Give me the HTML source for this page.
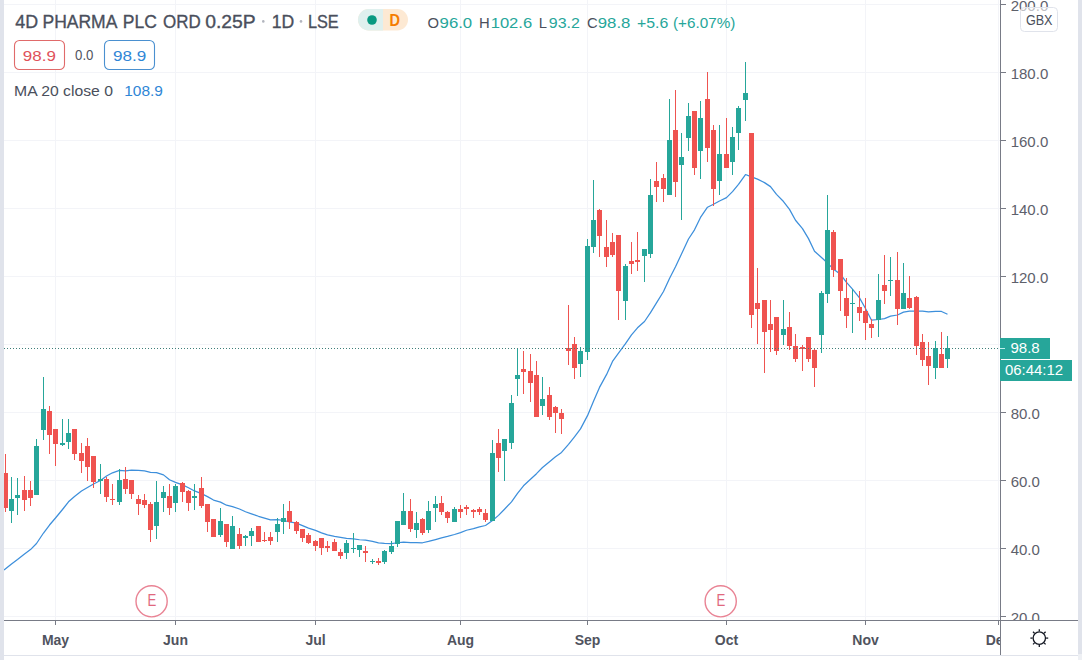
<!DOCTYPE html>
<html><head><meta charset="utf-8"><title>4D PHARMA chart</title>
<style>html,body{margin:0;padding:0;background:#fff;}body{width:1082px;height:660px;overflow:hidden;position:relative;font-family:"Liberation Sans",sans-serif;}</style>
</head><body>
<svg width="1082" height="660" viewBox="0 0 1082 660" style="position:absolute;left:0;top:0">
<g shape-rendering="crispEdges">
<rect x="4" y="4" width="996" height="1" fill="#f3f4f8"/>
<rect x="4" y="72" width="996" height="1" fill="#f3f4f8"/>
<rect x="4" y="140" width="996" height="1" fill="#f3f4f8"/>
<rect x="4" y="208" width="996" height="1" fill="#f3f4f8"/>
<rect x="4" y="276" width="996" height="1" fill="#f3f4f8"/>
<rect x="4" y="344" width="996" height="1" fill="#f3f4f8"/>
<rect x="4" y="412" width="996" height="1" fill="#f3f4f8"/>
<rect x="4" y="480" width="996" height="1" fill="#f3f4f8"/>
<rect x="4" y="548" width="996" height="1" fill="#f3f4f8"/>
<rect x="4" y="616" width="996" height="1" fill="#f3f4f8"/>
<rect x="55" y="0" width="1" height="620" fill="#f3f4f8"/>
<rect x="175" y="0" width="1" height="620" fill="#f3f4f8"/>
<rect x="315" y="0" width="1" height="620" fill="#f3f4f8"/>
<rect x="460" y="0" width="1" height="620" fill="#f3f4f8"/>
<rect x="587" y="0" width="1" height="620" fill="#f3f4f8"/>
<rect x="726" y="0" width="1" height="620" fill="#f3f4f8"/>
<rect x="865" y="0" width="1" height="620" fill="#f3f4f8"/>
<rect x="998" y="0" width="1" height="620" fill="#f3f4f8"/>
</g>
<polyline points="4.0,570.0 11.5,564 17.5,559.5 24.5,554 30.5,549.6 36.5,543.5 43.5,533 49.5,525 55.5,518 62.5,509.5 68.5,501.8 74.5,496.5 81.5,491 87.5,487.5 93.5,484 100.5,480.5 106.5,476 112.5,472.8 119.5,470.4 125.5,470.86 131.5,470.19 138.5,470.38 144.5,470.84 150.5,472.34 156.5,472.58 163.5,474.88 169.5,479.79 175.5,482.41 182.5,484.84 188.5,487.79 194.5,490.96 201.5,493.58 207.5,496.6 213.5,500.08 220.5,502.08 226.5,505.19 232.5,506.71 239.5,508.98 245.5,511.77 251.5,513.92 258.5,516.28 264.5,518.13 270.5,519.91 277.5,519.67 283.5,520.5 289.5,521.96 296.5,523.12 302.5,525.66 308.5,528.2 315.5,530.33 321.5,532.85 327.5,534.93 334.5,536.38 340.5,537.33 346.5,538.43 353.5,538.8 359.5,539.75 365.5,540.08 372.5,541.33 378.5,542.86 384.5,543.38 391.5,543.68 397.5,542.75 403.5,542.1 410.5,542.58 416.5,542.66 422.5,542.76 428.5,541.46 435.5,539.56 441.5,537.88 447.5,536.4 454.5,534.5 460.5,532.57 466.5,530.24 473.5,528.66 479.5,526.81 485.5,525.51 492.5,520.58 498.5,515.38 504.5,509.25 511.5,501.85 517.5,493.3 523.5,485.78 530.5,479.31 536.5,473.69 542.5,467.49 549.5,461.69 555.5,456.72 561.5,452.4 568.5,444.33 574.5,436.79 580.5,428.91 587.5,415.66 593.5,401.26 599.5,387.42 606.5,374.65 612.5,361.4 618.5,353.23 625.5,343.7 631.5,334.88 637.5,327.78 644.5,321.48 650.5,312.7 656.5,302.9 663.5,291.5 669.5,278.55 675.5,266.78 681.5,254.05 688.5,238.97 694.5,229.83 700.5,217.4 707.5,207.19 713.5,204.27 719.5,200.97 726.5,197.58 732.5,191.65 738.5,184.35 745.5,174.52 751.5,176.9 757.5,179.15 764.5,182.63 770.5,186.61 776.5,194.34 783.5,201.51 789.5,209.38 795.5,220.26 802.5,228.61 808.5,238.64 814.5,251.17 821.5,257.48 827.5,263.08 833.5,269.17 840.5,274.27 846.5,282.3 852.5,289.09 859.5,297.82 865.5,308.5 871.5,320.18 878.5,319.5 884.5,318.6 890.5,316.05 897.5,315.0 903.5,312.17 909.5,311.07 916.5,311.05 922.5,311.1 928.5,311.95 935.5,311.47 941.5,311.47 947.5,314.22" fill="none" stroke="#3d8fdb" stroke-width="1.25" stroke-linejoin="round"/>
<g shape-rendering="crispEdges">
<rect x="5" y="454" width="1" height="58" fill="#ef5350"/>
<rect x="3" y="473" width="5" height="35" fill="#ef5350"/>
<rect x="11" y="477" width="1" height="46" fill="#26a69a"/>
<rect x="9" y="499" width="5" height="12" fill="#26a69a"/>
<rect x="17" y="478" width="1" height="37" fill="#26a69a"/>
<rect x="15" y="495" width="5" height="3" fill="#26a69a"/>
<rect x="24" y="476" width="1" height="35" fill="#ef5350"/>
<rect x="22" y="490" width="5" height="10" fill="#ef5350"/>
<rect x="30" y="481" width="1" height="25" fill="#ef5350"/>
<rect x="28" y="490" width="5" height="8" fill="#ef5350"/>
<rect x="36" y="439" width="1" height="56" fill="#26a69a"/>
<rect x="34" y="446" width="5" height="49" fill="#26a69a"/>
<rect x="43" y="377" width="1" height="63" fill="#26a69a"/>
<rect x="41" y="409" width="5" height="21" fill="#26a69a"/>
<rect x="49" y="406" width="1" height="48" fill="#ef5350"/>
<rect x="47" y="411" width="5" height="24" fill="#ef5350"/>
<rect x="55" y="429" width="1" height="37" fill="#ef5350"/>
<rect x="53" y="429" width="5" height="15" fill="#ef5350"/>
<rect x="62" y="419" width="1" height="27" fill="#26a69a"/>
<rect x="60" y="443" width="5" height="2" fill="#26a69a"/>
<rect x="68" y="419" width="1" height="30" fill="#26a69a"/>
<rect x="66" y="433" width="5" height="9" fill="#26a69a"/>
<rect x="74" y="429" width="1" height="31" fill="#ef5350"/>
<rect x="72" y="429" width="5" height="25" fill="#ef5350"/>
<rect x="81" y="443" width="1" height="30" fill="#ef5350"/>
<rect x="79" y="453" width="5" height="8" fill="#ef5350"/>
<rect x="87" y="438" width="1" height="43" fill="#ef5350"/>
<rect x="85" y="446" width="5" height="21" fill="#ef5350"/>
<rect x="93" y="456" width="1" height="32" fill="#ef5350"/>
<rect x="91" y="456" width="5" height="26" fill="#ef5350"/>
<rect x="100" y="464" width="1" height="30" fill="#26a69a"/>
<rect x="98" y="479" width="5" height="2" fill="#26a69a"/>
<rect x="106" y="477" width="1" height="25" fill="#ef5350"/>
<rect x="104" y="479" width="5" height="18" fill="#ef5350"/>
<rect x="112" y="484" width="1" height="21" fill="#ef5350"/>
<rect x="110" y="499" width="5" height="1" fill="#ef5350"/>
<rect x="119" y="469" width="1" height="36" fill="#26a69a"/>
<rect x="117" y="480" width="5" height="22" fill="#26a69a"/>
<rect x="125" y="467" width="1" height="27" fill="#ef5350"/>
<rect x="123" y="479" width="5" height="10" fill="#ef5350"/>
<rect x="131" y="480" width="1" height="19" fill="#ef5350"/>
<rect x="129" y="480" width="5" height="14" fill="#ef5350"/>
<rect x="138" y="495" width="1" height="20" fill="#ef5350"/>
<rect x="136" y="499" width="5" height="5" fill="#ef5350"/>
<rect x="144" y="494" width="1" height="14" fill="#ef5350"/>
<rect x="142" y="500" width="5" height="5" fill="#ef5350"/>
<rect x="150" y="502" width="1" height="40" fill="#ef5350"/>
<rect x="148" y="504" width="5" height="26" fill="#ef5350"/>
<rect x="156" y="481" width="1" height="58" fill="#26a69a"/>
<rect x="154" y="502" width="5" height="24" fill="#26a69a"/>
<rect x="163" y="486" width="1" height="26" fill="#26a69a"/>
<rect x="161" y="492" width="5" height="6" fill="#26a69a"/>
<rect x="169" y="484" width="1" height="31" fill="#ef5350"/>
<rect x="167" y="496" width="5" height="12" fill="#ef5350"/>
<rect x="175" y="484" width="1" height="28" fill="#26a69a"/>
<rect x="173" y="486" width="5" height="17" fill="#26a69a"/>
<rect x="182" y="482" width="1" height="20" fill="#ef5350"/>
<rect x="180" y="483" width="5" height="9" fill="#ef5350"/>
<rect x="188" y="490" width="1" height="21" fill="#ef5350"/>
<rect x="186" y="491" width="5" height="12" fill="#ef5350"/>
<rect x="194" y="484" width="1" height="26" fill="#26a69a"/>
<rect x="192" y="496" width="5" height="2" fill="#26a69a"/>
<rect x="201" y="477" width="1" height="31" fill="#ef5350"/>
<rect x="199" y="488" width="5" height="18" fill="#ef5350"/>
<rect x="207" y="504" width="1" height="28" fill="#ef5350"/>
<rect x="205" y="504" width="5" height="18" fill="#ef5350"/>
<rect x="213" y="519" width="1" height="18" fill="#ef5350"/>
<rect x="211" y="519" width="5" height="18" fill="#ef5350"/>
<rect x="220" y="508" width="1" height="29" fill="#26a69a"/>
<rect x="218" y="521" width="5" height="14" fill="#26a69a"/>
<rect x="226" y="524" width="1" height="23" fill="#ef5350"/>
<rect x="224" y="524" width="5" height="18" fill="#ef5350"/>
<rect x="232" y="516" width="1" height="33" fill="#26a69a"/>
<rect x="230" y="526" width="5" height="23" fill="#26a69a"/>
<rect x="239" y="528" width="1" height="21" fill="#ef5350"/>
<rect x="237" y="534" width="5" height="12" fill="#ef5350"/>
<rect x="245" y="535" width="1" height="11" fill="#26a69a"/>
<rect x="243" y="536" width="5" height="2" fill="#26a69a"/>
<rect x="251" y="528" width="1" height="18" fill="#26a69a"/>
<rect x="249" y="531" width="5" height="5" fill="#26a69a"/>
<rect x="258" y="526" width="1" height="16" fill="#ef5350"/>
<rect x="256" y="526" width="5" height="16" fill="#ef5350"/>
<rect x="264" y="532" width="1" height="10" fill="#ef5350"/>
<rect x="262" y="540" width="5" height="1" fill="#ef5350"/>
<rect x="270" y="532" width="1" height="13" fill="#ef5350"/>
<rect x="268" y="537" width="5" height="4" fill="#ef5350"/>
<rect x="277" y="518" width="1" height="24" fill="#26a69a"/>
<rect x="275" y="524" width="5" height="8" fill="#26a69a"/>
<rect x="283" y="504" width="1" height="30" fill="#26a69a"/>
<rect x="281" y="518" width="5" height="4" fill="#26a69a"/>
<rect x="289" y="501" width="1" height="28" fill="#ef5350"/>
<rect x="287" y="511" width="5" height="11" fill="#ef5350"/>
<rect x="296" y="521" width="1" height="13" fill="#ef5350"/>
<rect x="294" y="522" width="5" height="9" fill="#ef5350"/>
<rect x="302" y="529" width="1" height="13" fill="#ef5350"/>
<rect x="300" y="529" width="5" height="9" fill="#ef5350"/>
<rect x="308" y="533" width="1" height="11" fill="#ef5350"/>
<rect x="306" y="535" width="5" height="8" fill="#ef5350"/>
<rect x="315" y="540" width="1" height="11" fill="#ef5350"/>
<rect x="313" y="541" width="5" height="5" fill="#ef5350"/>
<rect x="321" y="538" width="1" height="17" fill="#ef5350"/>
<rect x="319" y="538" width="5" height="10" fill="#ef5350"/>
<rect x="327" y="541" width="1" height="11" fill="#ef5350"/>
<rect x="325" y="546" width="5" height="2" fill="#ef5350"/>
<rect x="334" y="539" width="1" height="12" fill="#ef5350"/>
<rect x="332" y="542" width="5" height="9" fill="#ef5350"/>
<rect x="340" y="549" width="1" height="10" fill="#ef5350"/>
<rect x="338" y="552" width="5" height="4" fill="#ef5350"/>
<rect x="346" y="540" width="1" height="19" fill="#26a69a"/>
<rect x="344" y="543" width="5" height="10" fill="#26a69a"/>
<rect x="353" y="533" width="1" height="20" fill="#26a69a"/>
<rect x="351" y="548" width="5" height="1" fill="#26a69a"/>
<rect x="359" y="545" width="1" height="12" fill="#26a69a"/>
<rect x="357" y="545" width="5" height="5" fill="#26a69a"/>
<rect x="365" y="546" width="1" height="16" fill="#ef5350"/>
<rect x="363" y="551" width="5" height="2" fill="#ef5350"/>
<rect x="372" y="559" width="1" height="5" fill="#26a69a"/>
<rect x="370" y="561" width="5" height="1" fill="#26a69a"/>
<rect x="378" y="558" width="1" height="7" fill="#ef5350"/>
<rect x="376" y="561" width="5" height="2" fill="#ef5350"/>
<rect x="384" y="550" width="1" height="14" fill="#26a69a"/>
<rect x="382" y="551" width="5" height="11" fill="#26a69a"/>
<rect x="391" y="541" width="1" height="13" fill="#26a69a"/>
<rect x="389" y="546" width="5" height="6" fill="#26a69a"/>
<rect x="397" y="521" width="1" height="26" fill="#26a69a"/>
<rect x="395" y="521" width="5" height="23" fill="#26a69a"/>
<rect x="403" y="493" width="1" height="32" fill="#26a69a"/>
<rect x="401" y="511" width="5" height="14" fill="#26a69a"/>
<rect x="410" y="499" width="1" height="33" fill="#ef5350"/>
<rect x="408" y="511" width="5" height="18" fill="#ef5350"/>
<rect x="416" y="512" width="1" height="26" fill="#26a69a"/>
<rect x="414" y="523" width="5" height="7" fill="#26a69a"/>
<rect x="422" y="518" width="1" height="17" fill="#ef5350"/>
<rect x="420" y="519" width="5" height="14" fill="#ef5350"/>
<rect x="428" y="501" width="1" height="32" fill="#26a69a"/>
<rect x="426" y="511" width="5" height="19" fill="#26a69a"/>
<rect x="435" y="496" width="1" height="26" fill="#26a69a"/>
<rect x="433" y="504" width="5" height="4" fill="#26a69a"/>
<rect x="441" y="496" width="1" height="19" fill="#ef5350"/>
<rect x="439" y="503" width="5" height="9" fill="#ef5350"/>
<rect x="447" y="511" width="1" height="12" fill="#ef5350"/>
<rect x="445" y="512" width="5" height="6" fill="#ef5350"/>
<rect x="454" y="507" width="1" height="15" fill="#26a69a"/>
<rect x="452" y="509" width="5" height="13" fill="#26a69a"/>
<rect x="460" y="505" width="1" height="13" fill="#ef5350"/>
<rect x="458" y="509" width="5" height="3" fill="#ef5350"/>
<rect x="466" y="505" width="1" height="10" fill="#ef5350"/>
<rect x="464" y="507" width="5" height="2" fill="#ef5350"/>
<rect x="473" y="509" width="1" height="9" fill="#ef5350"/>
<rect x="471" y="510" width="5" height="2" fill="#ef5350"/>
<rect x="479" y="507" width="1" height="8" fill="#ef5350"/>
<rect x="477" y="509" width="5" height="3" fill="#ef5350"/>
<rect x="485" y="509" width="1" height="13" fill="#ef5350"/>
<rect x="483" y="513" width="5" height="7" fill="#ef5350"/>
<rect x="492" y="440" width="1" height="81" fill="#26a69a"/>
<rect x="490" y="453" width="5" height="68" fill="#26a69a"/>
<rect x="498" y="429" width="1" height="43" fill="#ef5350"/>
<rect x="496" y="443" width="5" height="15" fill="#ef5350"/>
<rect x="504" y="439" width="1" height="42" fill="#26a69a"/>
<rect x="502" y="439" width="5" height="12" fill="#26a69a"/>
<rect x="511" y="395" width="1" height="54" fill="#26a69a"/>
<rect x="509" y="403" width="5" height="40" fill="#26a69a"/>
<rect x="517" y="348" width="1" height="48" fill="#26a69a"/>
<rect x="515" y="375" width="5" height="4" fill="#26a69a"/>
<rect x="523" y="351" width="1" height="43" fill="#ef5350"/>
<rect x="521" y="369" width="5" height="3" fill="#ef5350"/>
<rect x="530" y="354" width="1" height="48" fill="#ef5350"/>
<rect x="528" y="371" width="5" height="12" fill="#ef5350"/>
<rect x="536" y="361" width="1" height="56" fill="#ef5350"/>
<rect x="534" y="375" width="5" height="42" fill="#ef5350"/>
<rect x="542" y="377" width="1" height="38" fill="#26a69a"/>
<rect x="540" y="399" width="5" height="7" fill="#26a69a"/>
<rect x="549" y="387" width="1" height="33" fill="#ef5350"/>
<rect x="547" y="395" width="5" height="22" fill="#ef5350"/>
<rect x="555" y="406" width="1" height="27" fill="#ef5350"/>
<rect x="553" y="407" width="5" height="6" fill="#ef5350"/>
<rect x="561" y="409" width="1" height="25" fill="#ef5350"/>
<rect x="559" y="413" width="5" height="6" fill="#ef5350"/>
<rect x="568" y="305" width="1" height="60" fill="#ef5350"/>
<rect x="566" y="348" width="5" height="3" fill="#ef5350"/>
<rect x="574" y="337" width="1" height="42" fill="#ef5350"/>
<rect x="572" y="344" width="5" height="24" fill="#ef5350"/>
<rect x="580" y="347" width="1" height="30" fill="#26a69a"/>
<rect x="578" y="351" width="5" height="13" fill="#26a69a"/>
<rect x="587" y="239" width="1" height="121" fill="#26a69a"/>
<rect x="585" y="246" width="5" height="106" fill="#26a69a"/>
<rect x="593" y="180" width="1" height="73" fill="#26a69a"/>
<rect x="591" y="220" width="5" height="27" fill="#26a69a"/>
<rect x="599" y="209" width="1" height="48" fill="#ef5350"/>
<rect x="597" y="210" width="5" height="26" fill="#ef5350"/>
<rect x="606" y="220" width="1" height="47" fill="#ef5350"/>
<rect x="604" y="247" width="5" height="10" fill="#ef5350"/>
<rect x="612" y="233" width="1" height="24" fill="#ef5350"/>
<rect x="610" y="242" width="5" height="13" fill="#ef5350"/>
<rect x="618" y="235" width="1" height="85" fill="#ef5350"/>
<rect x="616" y="235" width="5" height="56" fill="#ef5350"/>
<rect x="625" y="264" width="1" height="56" fill="#26a69a"/>
<rect x="623" y="266" width="5" height="35" fill="#26a69a"/>
<rect x="631" y="242" width="1" height="32" fill="#ef5350"/>
<rect x="629" y="261" width="5" height="3" fill="#ef5350"/>
<rect x="637" y="232" width="1" height="39" fill="#ef5350"/>
<rect x="635" y="260" width="5" height="2" fill="#ef5350"/>
<rect x="644" y="249" width="1" height="33" fill="#26a69a"/>
<rect x="642" y="249" width="5" height="7" fill="#26a69a"/>
<rect x="650" y="179" width="1" height="79" fill="#26a69a"/>
<rect x="648" y="195" width="5" height="59" fill="#26a69a"/>
<rect x="656" y="162" width="1" height="40" fill="#ef5350"/>
<rect x="654" y="181" width="5" height="6" fill="#ef5350"/>
<rect x="663" y="174" width="1" height="28" fill="#ef5350"/>
<rect x="661" y="178" width="5" height="11" fill="#ef5350"/>
<rect x="669" y="99" width="1" height="96" fill="#26a69a"/>
<rect x="667" y="140" width="5" height="55" fill="#26a69a"/>
<rect x="675" y="90" width="1" height="107" fill="#ef5350"/>
<rect x="673" y="130" width="5" height="52" fill="#ef5350"/>
<rect x="681" y="133" width="1" height="87" fill="#26a69a"/>
<rect x="679" y="157" width="5" height="8" fill="#26a69a"/>
<rect x="688" y="103" width="1" height="48" fill="#26a69a"/>
<rect x="686" y="116" width="5" height="22" fill="#26a69a"/>
<rect x="694" y="111" width="1" height="64" fill="#ef5350"/>
<rect x="692" y="111" width="5" height="57" fill="#ef5350"/>
<rect x="700" y="101" width="1" height="78" fill="#26a69a"/>
<rect x="698" y="118" width="5" height="33" fill="#26a69a"/>
<rect x="707" y="72" width="1" height="90" fill="#ef5350"/>
<rect x="705" y="99" width="5" height="49" fill="#ef5350"/>
<rect x="713" y="125" width="1" height="81" fill="#ef5350"/>
<rect x="711" y="130" width="5" height="59" fill="#ef5350"/>
<rect x="719" y="125" width="1" height="70" fill="#26a69a"/>
<rect x="717" y="154" width="5" height="27" fill="#26a69a"/>
<rect x="726" y="118" width="1" height="50" fill="#ef5350"/>
<rect x="724" y="154" width="5" height="14" fill="#ef5350"/>
<rect x="732" y="127" width="1" height="48" fill="#26a69a"/>
<rect x="730" y="137" width="5" height="25" fill="#26a69a"/>
<rect x="738" y="106" width="1" height="44" fill="#26a69a"/>
<rect x="736" y="108" width="5" height="25" fill="#26a69a"/>
<rect x="745" y="62" width="1" height="59" fill="#26a69a"/>
<rect x="743" y="93" width="5" height="7" fill="#26a69a"/>
<rect x="751" y="133" width="1" height="195" fill="#ef5350"/>
<rect x="749" y="133" width="5" height="182" fill="#ef5350"/>
<rect x="757" y="268" width="1" height="76" fill="#ef5350"/>
<rect x="755" y="303" width="5" height="6" fill="#ef5350"/>
<rect x="764" y="300" width="1" height="73" fill="#ef5350"/>
<rect x="762" y="300" width="5" height="32" fill="#ef5350"/>
<rect x="770" y="300" width="1" height="52" fill="#ef5350"/>
<rect x="768" y="324" width="5" height="6" fill="#ef5350"/>
<rect x="776" y="317" width="1" height="38" fill="#ef5350"/>
<rect x="774" y="317" width="5" height="34" fill="#ef5350"/>
<rect x="783" y="300" width="1" height="45" fill="#26a69a"/>
<rect x="781" y="329" width="5" height="6" fill="#26a69a"/>
<rect x="789" y="312" width="1" height="38" fill="#ef5350"/>
<rect x="787" y="327" width="5" height="19" fill="#ef5350"/>
<rect x="795" y="334" width="1" height="28" fill="#ef5350"/>
<rect x="793" y="346" width="5" height="13" fill="#ef5350"/>
<rect x="802" y="345" width="1" height="26" fill="#ef5350"/>
<rect x="800" y="347" width="5" height="2" fill="#ef5350"/>
<rect x="808" y="337" width="1" height="25" fill="#ef5350"/>
<rect x="806" y="337" width="5" height="22" fill="#ef5350"/>
<rect x="814" y="349" width="1" height="38" fill="#ef5350"/>
<rect x="812" y="350" width="5" height="18" fill="#ef5350"/>
<rect x="821" y="291" width="1" height="62" fill="#26a69a"/>
<rect x="819" y="293" width="5" height="42" fill="#26a69a"/>
<rect x="827" y="195" width="1" height="108" fill="#26a69a"/>
<rect x="825" y="230" width="5" height="64" fill="#26a69a"/>
<rect x="833" y="230" width="1" height="47" fill="#ef5350"/>
<rect x="831" y="232" width="5" height="38" fill="#ef5350"/>
<rect x="840" y="259" width="1" height="52" fill="#ef5350"/>
<rect x="838" y="259" width="5" height="32" fill="#ef5350"/>
<rect x="846" y="278" width="1" height="50" fill="#ef5350"/>
<rect x="844" y="298" width="5" height="18" fill="#ef5350"/>
<rect x="852" y="289" width="1" height="44" fill="#26a69a"/>
<rect x="850" y="303" width="5" height="1" fill="#26a69a"/>
<rect x="859" y="291" width="1" height="30" fill="#ef5350"/>
<rect x="857" y="307" width="5" height="6" fill="#ef5350"/>
<rect x="865" y="298" width="1" height="42" fill="#ef5350"/>
<rect x="863" y="311" width="5" height="12" fill="#ef5350"/>
<rect x="871" y="319" width="1" height="19" fill="#ef5350"/>
<rect x="869" y="324" width="5" height="4" fill="#ef5350"/>
<rect x="878" y="274" width="1" height="63" fill="#26a69a"/>
<rect x="876" y="300" width="5" height="20" fill="#26a69a"/>
<rect x="884" y="255" width="1" height="49" fill="#ef5350"/>
<rect x="882" y="285" width="5" height="6" fill="#ef5350"/>
<rect x="890" y="257" width="1" height="39" fill="#26a69a"/>
<rect x="888" y="280" width="5" height="1" fill="#26a69a"/>
<rect x="897" y="252" width="1" height="73" fill="#ef5350"/>
<rect x="895" y="280" width="5" height="29" fill="#ef5350"/>
<rect x="903" y="263" width="1" height="46" fill="#26a69a"/>
<rect x="901" y="293" width="5" height="16" fill="#26a69a"/>
<rect x="909" y="276" width="1" height="33" fill="#ef5350"/>
<rect x="907" y="298" width="5" height="10" fill="#ef5350"/>
<rect x="916" y="296" width="1" height="59" fill="#ef5350"/>
<rect x="914" y="297" width="5" height="49" fill="#ef5350"/>
<rect x="922" y="334" width="1" height="32" fill="#ef5350"/>
<rect x="920" y="342" width="5" height="18" fill="#ef5350"/>
<rect x="928" y="342" width="1" height="43" fill="#ef5350"/>
<rect x="926" y="356" width="5" height="10" fill="#ef5350"/>
<rect x="935" y="341" width="1" height="38" fill="#26a69a"/>
<rect x="933" y="348" width="5" height="20" fill="#26a69a"/>
<rect x="941" y="332" width="1" height="36" fill="#ef5350"/>
<rect x="939" y="354" width="5" height="14" fill="#ef5350"/>
<rect x="947" y="336" width="1" height="32" fill="#26a69a"/>
<rect x="945" y="348" width="5" height="11" fill="#26a69a"/>
</g>
<line x1="4" y1="348.5" x2="1000" y2="348.5" stroke="#3f7f7a" stroke-width="1" stroke-dasharray="1 2" shape-rendering="crispEdges"/>
<circle cx="151.6" cy="601.3" r="15.6" fill="#fff" fill-opacity="0.9" stroke="#e98394" stroke-width="1.4"/>
<text x="151.9" y="606" text-anchor="middle" font-family="Liberation Sans" font-size="16" fill="#e0677e" textLength="8.8" lengthAdjust="spacingAndGlyphs">E</text>
<circle cx="720.7" cy="601.3" r="15.6" fill="#fff" fill-opacity="0.9" stroke="#e98394" stroke-width="1.4"/>
<text x="721.0" y="606" text-anchor="middle" font-family="Liberation Sans" font-size="16" fill="#e0677e" textLength="8.8" lengthAdjust="spacingAndGlyphs">E</text>
<g shape-rendering="crispEdges">
<rect x="0" y="0" width="4" height="660" fill="#e0e3eb"/>
<rect x="1078" y="0" width="4" height="654" fill="#e0e3eb"/>
<rect x="1078" y="654" width="4" height="6" fill="#eef0f4"/>
<rect x="1000" y="0" width="1" height="655" fill="#787b86"/>
<rect x="4" y="620" width="1074" height="1" fill="#787b86"/>
<rect x="4" y="655" width="1074" height="1" fill="#e0e3eb"/>
<rect x="1001" y="4" width="5" height="1" fill="#787b86"/>
<rect x="1001" y="72" width="5" height="1" fill="#787b86"/>
<rect x="1001" y="140" width="5" height="1" fill="#787b86"/>
<rect x="1001" y="208" width="5" height="1" fill="#787b86"/>
<rect x="1001" y="276" width="5" height="1" fill="#787b86"/>
<rect x="1001" y="344" width="5" height="1" fill="#787b86"/>
<rect x="1001" y="412" width="5" height="1" fill="#787b86"/>
<rect x="1001" y="480" width="5" height="1" fill="#787b86"/>
<rect x="1001" y="548" width="5" height="1" fill="#787b86"/>
<rect x="1001" y="616" width="5" height="1" fill="#787b86"/>
<rect x="55" y="621" width="1" height="4" fill="#787b86"/>
<rect x="175" y="621" width="1" height="4" fill="#787b86"/>
<rect x="315" y="621" width="1" height="4" fill="#787b86"/>
<rect x="460" y="621" width="1" height="4" fill="#787b86"/>
<rect x="587" y="621" width="1" height="4" fill="#787b86"/>
<rect x="726" y="621" width="1" height="4" fill="#787b86"/>
<rect x="865" y="621" width="1" height="4" fill="#787b86"/>
<rect x="998" y="621" width="1" height="4" fill="#787b86"/>
</g>
<text x="1010.7" y="11" font-family="Liberation Sans" font-size="15" fill="#5d606b" clip-path="url(#cp)">200.0</text>
<text x="1010.7" y="79" font-family="Liberation Sans" font-size="15" fill="#5d606b" clip-path="url(#cp)">180.0</text>
<text x="1010.7" y="147" font-family="Liberation Sans" font-size="15" fill="#5d606b" clip-path="url(#cp)">160.0</text>
<text x="1010.7" y="215" font-family="Liberation Sans" font-size="15" fill="#5d606b" clip-path="url(#cp)">140.0</text>
<text x="1010.7" y="283" font-family="Liberation Sans" font-size="15" fill="#5d606b" clip-path="url(#cp)">120.0</text>
<text x="1010.7" y="351" font-family="Liberation Sans" font-size="15" fill="#5d606b" clip-path="url(#cp)">100.0</text>
<text x="1010.7" y="419" font-family="Liberation Sans" font-size="15" fill="#5d606b" clip-path="url(#cp)">80.0</text>
<text x="1010.7" y="487" font-family="Liberation Sans" font-size="15" fill="#5d606b" clip-path="url(#cp)">60.0</text>
<text x="1010.7" y="555" font-family="Liberation Sans" font-size="15" fill="#5d606b" clip-path="url(#cp)">40.0</text>
<text x="1010.7" y="623" font-family="Liberation Sans" font-size="15" fill="#5d606b" clip-path="url(#cp)">20.0</text>
<text x="55.5" y="645" text-anchor="middle" font-family="Liberation Sans" font-weight="bold" font-size="14" fill="#50535e">May</text>
<text x="175.5" y="645" text-anchor="middle" font-family="Liberation Sans" font-weight="bold" font-size="14" fill="#50535e">Jun</text>
<text x="315.5" y="645" text-anchor="middle" font-family="Liberation Sans" font-weight="bold" font-size="14" fill="#50535e">Jul</text>
<text x="460.5" y="645" text-anchor="middle" font-family="Liberation Sans" font-weight="bold" font-size="14" fill="#50535e">Aug</text>
<text x="587.5" y="645" text-anchor="middle" font-family="Liberation Sans" font-weight="bold" font-size="14" fill="#50535e">Sep</text>
<text x="726.5" y="645" text-anchor="middle" font-family="Liberation Sans" font-weight="bold" font-size="14" fill="#50535e">Oct</text>
<text x="865.5" y="645" text-anchor="middle" font-family="Liberation Sans" font-weight="bold" font-size="14" fill="#50535e">Nov</text>
<text x="998.5" y="645" text-anchor="middle" font-family="Liberation Sans" font-weight="bold" font-size="14" fill="#50535e" clip-path="url(#cl)">Dec</text>
<clipPath id="cp"><rect x="1001" y="0" width="77" height="620"/></clipPath>
<clipPath id="cl"><rect x="0" y="620" width="1000" height="40"/></clipPath>
<rect x="1020.5" y="7.5" width="37" height="24" rx="4" fill="#fff" fill-opacity="0.6" stroke="#e0e3eb"/>
<rect x="1000" y="338" width="50" height="21" fill="#26a69a" shape-rendering="crispEdges"/>
<rect x="1000" y="348" width="5" height="1" fill="#bff0ec" shape-rendering="crispEdges"/>
<rect x="1000" y="360" width="72" height="21" fill="#26a69a" shape-rendering="crispEdges"/>
<circle cx="1039.3" cy="638.1" r="6.2" fill="none" stroke="#131722" stroke-width="1.3"/>
<line x1="1046.10" y1="638.10" x2="1048.20" y2="638.10" stroke="#131722" stroke-width="1.3"/>
<line x1="1044.11" y1="642.91" x2="1045.59" y2="644.39" stroke="#131722" stroke-width="1.3"/>
<line x1="1039.30" y1="644.90" x2="1039.30" y2="647.00" stroke="#131722" stroke-width="1.3"/>
<line x1="1034.49" y1="642.91" x2="1033.01" y2="644.39" stroke="#131722" stroke-width="1.3"/>
<line x1="1032.50" y1="638.10" x2="1030.40" y2="638.10" stroke="#131722" stroke-width="1.3"/>
<line x1="1034.49" y1="633.29" x2="1033.01" y2="631.81" stroke="#131722" stroke-width="1.3"/>
<line x1="1039.30" y1="631.30" x2="1039.30" y2="629.20" stroke="#131722" stroke-width="1.3"/>
<line x1="1044.11" y1="633.29" x2="1045.59" y2="631.81" stroke="#131722" stroke-width="1.3"/>
<rect x="14.5" y="40.5" width="50" height="29" rx="5" fill="#fff" stroke="#e06a6a" stroke-width="1.1"/>
<rect x="104.5" y="40.5" width="50" height="29" rx="5" fill="#fff" stroke="#4a90d0" stroke-width="1.1"/>
<text x="15.3" y="28" font-family="Liberation Sans" font-size="19.0" font-weight="normal" fill="#4a4f5c" textLength="22.82" lengthAdjust="spacingAndGlyphs" stroke="#4a4f5c" stroke-width="0.35">4D</text>
<text x="42.46" y="28" font-family="Liberation Sans" font-size="19.0" font-weight="normal" fill="#4a4f5c" textLength="74.92" lengthAdjust="spacingAndGlyphs" stroke="#4a4f5c" stroke-width="0.35">PHARMA</text>
<text x="122.76" y="28" font-family="Liberation Sans" font-size="19.0" font-weight="normal" fill="#4a4f5c" textLength="34.03" lengthAdjust="spacingAndGlyphs" stroke="#4a4f5c" stroke-width="0.35">PLC</text>
<text x="163.11" y="28" font-family="Liberation Sans" font-size="19.0" font-weight="normal" fill="#4a4f5c" textLength="37.69" lengthAdjust="spacingAndGlyphs" stroke="#4a4f5c" stroke-width="0.35">ORD</text>
<text x="205.28" y="28" font-family="Liberation Sans" font-size="19.0" font-weight="normal" fill="#4a4f5c" textLength="50.48" lengthAdjust="spacingAndGlyphs" stroke="#4a4f5c" stroke-width="0.35">0.25P</text>
<text x="271.77" y="28" font-family="Liberation Sans" font-size="19.0" font-weight="normal" fill="#4a4f5c" textLength="22.53" lengthAdjust="spacingAndGlyphs" stroke="#4a4f5c" stroke-width="0.35">1D</text>
<text x="307.88" y="28" font-family="Liberation Sans" font-size="19.0" font-weight="normal" fill="#4a4f5c" textLength="30.81" lengthAdjust="spacingAndGlyphs" stroke="#4a4f5c" stroke-width="0.35">LSE</text>
<text x="427.5" y="28" font-family="Liberation Sans" font-size="14.8" font-weight="normal" fill="#4a4f5c">O</text>
<text x="439.57" y="28" font-family="Liberation Sans" font-size="14.8" font-weight="normal" fill="#26a69a" textLength="32.65" lengthAdjust="spacingAndGlyphs">96.0</text>
<text x="479.0" y="28" font-family="Liberation Sans" font-size="14.8" font-weight="normal" fill="#4a4f5c">H</text>
<text x="490.68" y="28" font-family="Liberation Sans" font-size="14.8" font-weight="normal" fill="#26a69a" textLength="41.47" lengthAdjust="spacingAndGlyphs">102.6</text>
<text x="538.7" y="28" font-family="Liberation Sans" font-size="14.8" font-weight="normal" fill="#4a4f5c">L</text>
<text x="548.82" y="28" font-family="Liberation Sans" font-size="14.8" font-weight="normal" fill="#26a69a" textLength="31.05" lengthAdjust="spacingAndGlyphs">93.2</text>
<text x="586.9" y="28" font-family="Liberation Sans" font-size="14.8" font-weight="normal" fill="#4a4f5c">C</text>
<text x="597.77" y="28" font-family="Liberation Sans" font-size="14.8" font-weight="normal" fill="#26a69a" textLength="32.65" lengthAdjust="spacingAndGlyphs">98.8</text>
<text x="636.93" y="28" font-family="Liberation Sans" font-size="14.8" font-weight="normal" fill="#26a69a" textLength="31.31" lengthAdjust="spacingAndGlyphs">+5.6</text>
<text x="672.97" y="28" font-family="Liberation Sans" font-size="14.8" font-weight="normal" fill="#26a69a" textLength="62.3" lengthAdjust="spacingAndGlyphs">(+6.07%)</text>
<text x="22.87" y="61" font-family="Liberation Sans" font-size="15.0" font-weight="normal" fill="#e0515a" textLength="32.99" lengthAdjust="spacingAndGlyphs">98.9</text>
<text x="75.06" y="60" font-family="Liberation Sans" font-size="14.0" font-weight="normal" fill="#50535e" textLength="18.39" lengthAdjust="spacingAndGlyphs">0.0</text>
<text x="112.96" y="61" font-family="Liberation Sans" font-size="15.0" font-weight="normal" fill="#2f86d6" textLength="33.31" lengthAdjust="spacingAndGlyphs">98.9</text>
<text x="14.09" y="96" font-family="Liberation Sans" font-size="14.2" font-weight="normal" fill="#4a4f5c" textLength="98.85" lengthAdjust="spacingAndGlyphs">MA 20 close 0</text>
<text x="124.21" y="96" font-family="Liberation Sans" font-size="14.2" font-weight="normal" fill="#2f86d6" textLength="38.65" lengthAdjust="spacingAndGlyphs">108.9</text>
<text x="1025.9" y="25" font-family="Liberation Sans" font-size="14.0" font-weight="normal" fill="#4a4f5c" textLength="26.62" lengthAdjust="spacingAndGlyphs">GBX</text>
<text x="1010.43" y="353" font-family="Liberation Sans" font-size="14.0" font-weight="normal" fill="#ffffff" textLength="29.24" lengthAdjust="spacingAndGlyphs">98.8</text>
<text x="1004.93" y="375" font-family="Liberation Sans" font-size="14.0" font-weight="normal" fill="#ffffff" textLength="58.1" lengthAdjust="spacingAndGlyphs">06:44:12</text>
<circle cx="263.3" cy="21.4" r="1.3" fill="#b2b5be"/>
<circle cx="301" cy="21.4" r="1.3" fill="#b2b5be"/>
<rect x="358" y="9" width="50" height="21.5" rx="10.75" fill="#fde9d3"/>
<path d="M368.75 9 H383 V30.5 H368.75 A10.75 10.75 0 0 1 368.75 9 Z" fill="#dff0ee"/>
<circle cx="372" cy="20" r="4.8" fill="#089981"/>
<text x="389.6" y="26.3" font-family="Liberation Sans" font-weight="bold" font-size="16.5" fill="#f57c00" textLength="10.5" lengthAdjust="spacingAndGlyphs">D</text>
</svg>
</body></html>
